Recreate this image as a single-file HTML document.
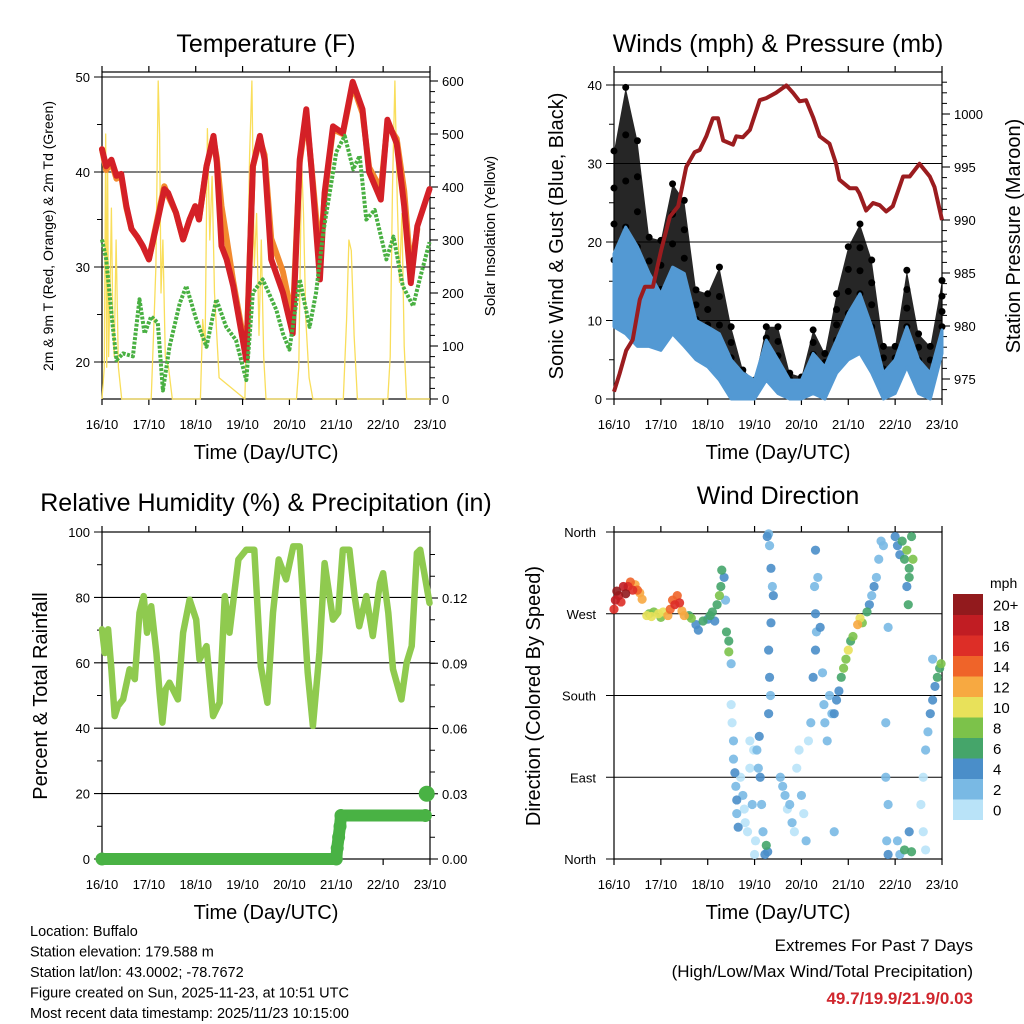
<!DOCTYPE html>
<html><head><meta charset="utf-8"><style>
html,body{margin:0;padding:0;background:#fff}
svg{display:block;font-family:"Liberation Sans",Arial,sans-serif}
</style></head><body>
<svg id="c" width="1024" height="1024" viewBox="0 0 1024 1024" xmlns="http://www.w3.org/2000/svg">
<g id="g"></g>
</svg>
<script>
// ---------- DATA ----------
const dayLabels = ["16/10","17/10","18/10","19/10","20/10","21/10","22/10","23/10"];
const tempT = [0,0.09,0.2,0.31,0.41,0.52,0.63,0.75,0.87,1.0,1.19,1.33,1.41,1.58,1.73,1.87,1.99,2.07,2.23,2.38,2.45,2.55,2.66,2.8,3.08,3.22,3.37,3.47,3.61,3.86,4.07,4.22,4.36,4.47,4.65,4.75,4.93,5.14,5.35,5.56,5.7,5.95,6.09,6.29,6.45,6.59,6.73];
const tempRed = [42.4,40.6,41.3,39.6,39.8,36.4,34,33.2,32.2,30.8,35,38.2,37.8,35.7,32.9,35,36.4,35,40.6,43.8,41,32.2,30.8,28,20.2,40.6,43.8,41.3,30.8,27.3,23,41.3,46.6,40.3,28.7,37.8,44.8,44.1,49.5,46.6,40,37.1,45.5,43,36.4,28.3,34.3];
const tempOrange = [42.4,40.2,41,39.3,39.6,36.2,34,33.2,32.2,30.8,35.3,38.5,37.5,35.7,32.9,35,36.4,35,40.6,43.4,41.5,36.4,33,28.5,20.8,40.6,43.4,41.8,33,29.5,24.5,41,46,40.5,31,37.5,44.5,44,49.2,46.2,40.5,38.2,45,43.5,38,29.5,34];
const tempEndT = 6.99, tempEndRed = 38.2;
const dewT = [0,0.09,0.23,0.31,0.45,0.66,0.8,0.91,1.05,1.19,1.3,1.44,1.66,1.8,2.01,2.23,2.44,2.65,2.86,3.08,3.22,3.43,3.72,3.86,4.0,4.22,4.43,4.57,4.72,5.0,5.18,5.36,5.5,5.64,5.82,6.07,6.22,6.42,6.64,6.78,6.99];
const dewVal = [32.9,30.8,23.7,20.2,20.9,20.6,26.6,23,24.8,24.1,17,21.6,26.2,28,24.5,21.6,26.6,23.7,22.3,18.1,27.3,28.7,25.5,23,21.3,28.7,23.7,27.3,33.6,42.1,43.8,40.3,41.7,35,36,30.8,33.2,28,25.9,28.7,32.6];
const solT = [0,0.05,0.08,0.1,0.12,0.14,0.17,0.2,0.23,0.26,0.3,0.35,0.42,1.05,1.1,1.15,1.2,1.23,1.26,1.3,1.35,1.42,1.5,2.1,2.15,2.2,2.25,2.3,2.35,2.4,2.45,2.5,3.05,3.1,3.15,3.2,3.25,3.3,3.35,3.4,3.45,3.5,4.15,4.2,4.26,4.3,4.35,4.42,4.5,5.15,5.22,5.27,5.32,5.38,5.45,6.1,6.15,6.2,6.25,6.3,6.35,6.4,6.45,6.5,7.0];
const solV = [0,60,500,60,450,80,200,360,150,80,300,60,0,0,120,250,600,500,200,300,80,60,0,0,150,100,510,300,420,200,120,40,0,200,460,600,250,350,120,300,80,0,0,60,450,350,150,40,0,0,150,300,280,120,0,0,80,400,600,380,220,350,100,0,0];
const windT = [0,0.25,0.5,0.75,1,1.25,1.5,1.75,2,2.25,2.5,2.75,3,3.25,3.5,3.75,4,4.25,4.5,4.75,5,5.25,5.5,5.75,6,6.25,6.5,6.75,7];
const windHi = [18.5,21.9,19.4,16,13.4,16.8,16,10,9.2,8.3,5,3.3,2.4,7.5,5,2.4,2.4,5.8,4.1,7.5,10.9,13.4,9.2,3.3,5,9.2,5,3.3,8.8];
const windLo = [9.2,8.3,6.7,6.7,6.2,8.3,6.7,5,4.1,2.4,0,0,0,2.4,0.7,0,0,0.7,0,3.3,5,5.8,3.3,0,0.7,4.1,0.7,0,5.8];
const gustHi = [31.6,39.7,32.9,20.6,20.2,27.4,25.3,13.9,13.4,16.8,9.2,3.7,2.4,9.2,9.2,3.3,2.8,8.8,5.8,13.4,19.4,22.3,17.7,6.7,6.7,16.4,8.3,6.7,15.1];
const gustLo = [17.7,21.9,19.4,11.7,10.9,16,14.3,8.3,7.5,5.8,3.3,2,1.6,5,3.7,1.1,1.1,4.1,2.4,7.5,10.9,13.4,9.2,2.4,2.4,9.2,3.3,1.6,9.2];
const presT = [0,0.12,0.26,0.4,0.55,0.66,0.83,1.01,1.19,1.37,1.54,1.72,1.83,1.97,2.11,2.22,2.33,2.54,2.61,2.75,2.9,3.11,3.25,3.46,3.68,3.82,3.96,4.1,4.25,4.39,4.6,4.74,4.81,5.03,5.17,5.24,5.38,5.53,5.67,5.81,5.95,6.17,6.31,6.52,6.74,6.84,7.0];
const presV = [973.8,975.5,977.7,978.7,982.5,983.7,983.7,987.2,990.3,991.3,995,996.4,996.6,997.9,999.6,999.6,997.5,997.1,997.9,997.8,998.5,1001.3,1001.5,1002,1002.7,1002,1001.2,1001.3,999.7,997.9,997.2,995.3,993.8,993,993,992.5,990.9,991.6,991.4,990.8,991.3,994.1,994.1,995.3,994.1,993.1,990];
const rhT = [0,0.06,0.13,0.2,0.27,0.34,0.45,0.59,0.7,0.8,0.89,0.96,1.05,1.16,1.23,1.29,1.36,1.44,1.62,1.73,1.87,2.01,2.08,2.23,2.37,2.51,2.62,2.72,2.91,3.08,3.25,3.39,3.53,3.65,3.77,3.93,4.08,4.22,4.39,4.5,4.64,4.75,4.93,5.04,5.14,5.28,5.39,5.49,5.64,5.78,5.93,6.0,6.11,6.21,6.39,6.5,6.61,6.72,6.79,6.99];
const rhV = [70.2,63,70.2,58,43.7,46.8,48.8,58,55,75.3,80.4,69.2,77.3,63,50.9,41.7,51.9,53.9,48.8,69.2,79.3,73.2,61,65.1,43.7,47.8,80.4,69.2,91.6,94.6,94.6,59,47.8,75.3,91.6,85.5,95.6,95.6,57,40.7,63,90.5,73.2,75.3,94.6,94.6,80.4,71.2,80.4,68.2,84.4,87.4,75.3,58,48.8,60,65.1,93.6,94.6,78.3,84.4,79.3];
const rainT = [0,5.0,5.02,5.05,5.08,5.1,6.9,6.93];
const rainV = [0,0,0.005,0.01,0.015,0.02,0.02,0.03];
const dirT = [0,0.03,0.06,0.1,0.15,0.2,0.25,0.3,0.35,0.4,0.45,0.5,0.55,0.6,0.7,0.75,0.8,0.85,0.95,1.0,1.05,1.15,1.2,1.25,1.3,1.35,1.4,1.45,1.5,1.6,1.65,1.75,1.8,1.9,2.0,2.05,2.1,2.15,2.2,2.25,2.28,2.3,2.35,2.38,2.4,2.45,2.45,2.5,2.5,2.52,2.55,2.55,2.58,2.6,2.62,2.62,2.65,2.7,2.75,2.78,2.8,2.85,2.9,2.9,2.95,2.98,3.0,3.02,3.05,3.08,3.1,3.12,3.15,3.18,3.22,3.25,3.28,3.27,3.3,3.32,3.35,3.38,3.4,3.35,3.3,3.32,3.34,3.3,3.55,3.6,3.65,3.7,3.75,3.8,3.85,3.9,3.95,4.0,4.05,4.1,4.15,4.2,4.25,4.3,4.32,4.3,4.28,4.3,4.35,4.4,4.45,4.48,4.5,4.55,4.6,4.65,4.7,4.7,4.75,4.8,4.85,4.9,4.95,5.0,5.05,5.1,5.2,5.25,5.3,5.4,5.45,5.5,5.55,5.6,5.65,5.7,5.75,5.8,5.8,5.85,5.82,5.85,5.85,6.0,6.05,6.1,6.15,6.2,6.25,6.3,6.35,6.38,6.3,6.28,6.25,6.05,6.1,6.2,6.3,6.35,6.55,6.6,6.65,6.7,6.75,6.8,6.85,6.9,6.95,6.98,6.6,6.65,6.8];
const dirV = [275,285,295,290,283,300,292,300,305,296,302,296,293,286,268,270,267,272,270,266,272,268,275,285,280,290,282,273,268,268,265,258,252,262,264,268,272,262,280,290,300,318,310,285,250,240,228,215,170,150,130,110,95,80,65,50,35,90,70,55,40,30,130,100,60,120,5,20,120,100,135,90,60,30,5,15,8,355,358,345,320,300,290,260,230,200,180,160,90,80,70,55,60,40,30,100,120,70,50,20,130,150,200,230,250,270,300,340,310,255,205,170,150,130,180,160,30,160,175,185,200,210,220,230,240,245,258,265,260,272,280,290,300,310,330,350,345,150,90,60,20,5,255,355,345,335,350,330,340,320,355,330,310,280,300,20,5,10,30,8,60,90,120,140,160,175,190,200,210,215,30,10,220];
const dirS = [16,19,20,18,17,19,20,16,14,17,12,15,13,12,10,9,10,8,10,9,11,12,14,15,17,14,16,12,13,7,8,5,4,6,5,7,6,4,7,8,7,6,5,3,6,7,8,2,1,0,2,3,4,3,4,3,4,1,2,0,1,0,0,1,3,1,1,0,2,3,4,4,3,3,4,6,4,4,2,3,4,3,4,4,4,4,3,4,2,3,2,1,2,3,1,0,1,2,1,2,1,3,4,4,3,4,3,4,3,4,3,2,3,3,2,2,3,5,4,4,6,8,9,10,7,8,12,11,8,6,4,3,4,3,2,2,2,2,3,2,3,4,2,4,5,4,6,7,8,6,7,8,6,6,5,3,2,7,4,6,1,1,2,3,4,4,5,6,7,8,1,1,2];
const speedBins = ["0","2","4","6","8","10","12","14","16","18","20+"];

// ---------- HELPERS ----------
const NS="http://www.w3.org/2000/svg";
const root=document.getElementById('g');
function el(tag,attrs,parent,txt){const e=document.createElementNS(NS,tag);for(const k in attrs)e.setAttribute(k,attrs[k]);if(txt!==undefined)e.textContent=txt;(parent||root).appendChild(e);return e;}
function lin(d0,d1,r0,r1){return v=>r0+(v-d0)*(r1-r0)/(d1-d0);}
const binColors=["#b9e3f8","#79b9e4","#4a8ec9","#45a56a","#7cc24a","#e8e15a","#f7a941","#ef6429","#dd2e27","#c11d23","#921a1d"];
function spdColor(s){let i=Math.floor(s/2);if(i>10)i=10;if(i<0)i=0;return binColors[i];}

function frame(p){
  const g=el('g',{});
  
  
  const xs=lin(0,7,p.x0,p.x1);
  for(let i=0;i<8;i++){
    const x=xs(i);
    el('line',{x1:x,y1:p.y1,x2:x,y2:p.y1+6,stroke:'#000','stroke-width':1.2},g);
    el('line',{x1:x,y1:p.y0,x2:x,y2:p.y0-6,stroke:'#000','stroke-width':1.2},g);
    const t=el('text',{x:x,y:p.y1+30,'text-anchor':'middle','font-size':13},g,dayLabels[i]);
    
    
  }
  el('rect',{x:p.x0,y:p.y0,width:p.x1-p.x0,height:p.y1-p.y0,fill:'none',stroke:'#000','stroke-width':1.2},g);
  const tl=el('text',{x:(p.x0+p.x1)/2,y:p.y1+60,'text-anchor':'middle','font-size':20},g,'Time (Day/UTC)');
  
  
  return xs;
}
function leftAxis(p,ys,majors,minors,labels,withGrid){
  const g=el('g',{});
  
  
  minors.forEach(v=>{const y=ys(v);el('line',{x1:p.x0,y1:y,x2:p.x0-5,y2:y,stroke:'#000','stroke-width':1},g);});
  majors.forEach((v,i)=>{const y=ys(v);
    el('line',{x1:withGrid?p.x1:p.x0,y1:y,x2:p.x0-8,y2:y,stroke:'#000','stroke-width':1.1},g);
    const t=el('text',{x:p.x0-12,y:y+5,'text-anchor':'end','font-size':13},g,labels[i]);
    
    
  });
}
function rightAxis(p,ys,majors,minors,labels){
  const g=el('g',{});
  
  
  minors.forEach(v=>{const y=ys(v);el('line',{x1:p.x1,y1:y,x2:p.x1+5,y2:y,stroke:'#000','stroke-width':1},g);});
  majors.forEach((v,i)=>{const y=ys(v);
    el('line',{x1:p.x1,y1:y,x2:p.x1+8,y2:y,stroke:'#000','stroke-width':1.1},g);
    const t=el('text',{x:p.x1+12,y:y+5,'text-anchor':'start','font-size':13},g,labels[i]);
    
    
  });
}
function rotLabel(x,y,txt,size,name){
  const t=el('text',{x:x,y:y,'text-anchor':'middle','font-size':size,transform:`rotate(-90 ${x} ${y})`},root,txt);
  
  
}
function title(x,y,txt,name){
  const t=el('text',{x:x,y:y,'text-anchor':'middle','font-size':25},root,txt);
  
  
}
function range(a,b,s){const r=[];for(let v=a;v<=b+1e-9;v+=s)r.push(+v.toFixed(4));return r;}
function pts(xs,ys,T,V){return T.map((t,i)=>xs(t).toFixed(1)+','+ys(V[i]).toFixed(1)).join(' ');}

// ---------- PANEL 1: Temperature ----------
(function(){
  const p={x0:102,x1:430,y0:72,y1:399,name:'temperature'};
  title(266,52,'Temperature (F)','temperature-title');
  const ys=lin(20,50,362,77);
  const ys2=lin(0,600,399,81);
  leftAxis(p,ys,[20,30,40,50],[25,35,45],["20","30","40","50"],true);
  rightAxis(p,ys2,range(0,600,100),range(0,600,20),range(0,600,100).map(String));
  const xs=frame(p);
  const s=el('polyline',{points:pts(xs,ys2,solT,solV),fill:'none',stroke:'#f9de5b','stroke-width':1.3,'stroke-linejoin':'round'});
  
  
  const o=el('polyline',{points:pts(xs,ys,tempT,tempOrange),fill:'none',stroke:'#f28a2e','stroke-width':6,'stroke-linejoin':'round','stroke-linecap':'round'});
  
  
  const r=el('polyline',{points:pts(xs,ys,tempT.concat([tempEndT]),tempRed.concat([tempEndRed])),fill:'none',stroke:'#d42027','stroke-width':6,'stroke-linejoin':'round','stroke-linecap':'round'});
  
  
  const d=el('polyline',{points:pts(xs,ys,dewT,dewVal),fill:'none',stroke:'#49b042','stroke-width':4,'stroke-dasharray':'3 1.5','stroke-linejoin':'round'});
  
  
  rotLabel(53,236,'2m & 9m T (Red, Orange) & 2m Td (Green)',14,'y-axis-title');
  rotLabel(495,236,'Solar Insolation (Yellow)',15,'y2-axis-title');
})();

// ---------- PANEL 2: Winds & Pressure ----------
(function(){
  const p={x0:614,x1:942,y0:72,y1:399,name:'winds'};
  title(778,52,'Winds (mph) & Pressure (mb)','winds-title');
  const ys=lin(0,40,399,85);
  const ys2=lin(975,1000,379,114);
  leftAxis(p,ys,[0,10,20,30,40],[5,15,25,35],["0","10","20","30","40"],true);
  rightAxis(p,ys2,[975,980,985,990,995,1000],range(974,1003,1),["975","980","985","990","995","1000"]);
  const xs=frame(p);
  const gg=el('g',{});
  
  
  const gb=windT.map((t,i)=>xs(t)+','+ys(gustHi[i])).concat(windT.map((t,i)=>xs(t)+','+ys(gustLo[i])).reverse()).join(' ');
  el('polygon',{points:gb,fill:'#000','fill-opacity':0.85},gg);
  windT.forEach((t,i)=>{
    [0,0.33,0.66,1].forEach(f=>{
      el('circle',{cx:xs(t),cy:ys(gustLo[i]+(gustHi[i]-gustLo[i])*f),r:3.5,fill:'#000'},gg);
    });
  });
  const wb=windT.map((t,i)=>xs(t)+','+ys(windHi[i])).concat(windT.map((t,i)=>xs(t)+','+ys(windLo[i])).reverse()).join(' ');
  const w=el('polygon',{points:wb,fill:'#5399d3',stroke:'#5399d3','stroke-width':3,'stroke-linejoin':'round'});
  
  
  const pr=el('polyline',{points:pts(xs,ys2,presT,presV),fill:'none',stroke:'#9b1c1f','stroke-width':4,'stroke-linejoin':'round'});
  
  
  rotLabel(563,236,'Sonic Wind & Gust (Blue, Black)',20,'y-axis-title');
  rotLabel(1020,236,'Station Pressure (Maroon)',20,'y2-axis-title');
})();

// ---------- PANEL 3: RH & Precip ----------
(function(){
  const p={x0:102,x1:430,y0:532,y1:859,name:'humidity'};
  title(266,511,'Relative Humidity (%) & Precipitation (in)','humidity-title');
  const ys=lin(0,100,859,532);
  const ys2=lin(0,0.12,859,598);
  leftAxis(p,ys,[0,20,40,60,80,100],range(10,90,20),["0","20","40","60","80","100"],true);
  rightAxis(p,ys2,[0,0.03,0.06,0.09,0.12],range(0,0.14,0.01),["0.00","0.03","0.06","0.09","0.12"]);
  const xs=frame(p);
  const rh=el('polyline',{points:pts(xs,ys,rhT,rhV),fill:'none',stroke:'#8fca4f','stroke-width':6.5,'stroke-linejoin':'round','stroke-linecap':'round'});
  
  
  const rn=el('polyline',{points:pts(xs,ys2,rainT.slice(0,7),rainV.slice(0,7)),fill:'none',stroke:'#49b244','stroke-width':12,'stroke-linejoin':'round','stroke-linecap':'round'});
  
  
  rainT.forEach((t,i)=>{const c=el('circle',{cx:xs(t),cy:ys2(rainV[i]),r:i==rainT.length-1?8:6.5,fill:'#49b244'});
    
    });
  rotLabel(47,696,'Percent & Total Rainfall',20,'y-axis-title');
})();

// ---------- PANEL 4: Wind Direction ----------
(function(){
  const p={x0:614,x1:942,y0:532,y1:859,name:'wind-direction'};
  title(778,504,'Wind Direction','wind-direction-title');
  const ys=lin(0,360,859,532);
  const g=el('g',{});
  
  
  const dl=["North","East","South","West","North"];
  [0,90,180,270,360].forEach((v,i)=>{const y=ys(v);
    el('line',{x1:p.x1,y1:y,x2:p.x0-8,y2:y,stroke:'#000','stroke-width':1.1},g);
    const t=el('text',{x:p.x0-18,y:y+5,'text-anchor':'end','font-size':13},g,dl[i]);
    
    });
  const xs=frame(p);
  const sg=el('g',{'fill-opacity':0.9});
  
  
  const order=dirT.map((_,i)=>i).sort((a,b)=>dirS[a]-dirS[b]);
  order.forEach(i=>{el('circle',{cx:xs(dirT[i]),cy:ys(dirV[i]),r:4.6,fill:spdColor(dirS[i])},sg);});
  rotLabel(540,696,'Direction (Colored By Speed)',20,'y-axis-title');
  const lg=el('g',{});
  
  
  el('text',{x:990,y:588,'font-size':14},lg,'mph');
  const h=20.5;
  for(let k=0;k<11;k++){
    const y=594+(10-k)*h;
    el('rect',{x:953,y:y,width:30,height:h+0.5,fill:binColors[k]},lg);
    el('text',{x:993,y:y+h/2+6,'font-size':15},lg,speedBins[k]);
  }
})();

// ---------- Footer text ----------
(function(){
  const info=["Location: Buffalo","Station elevation: 179.588 m","Station lat/lon: 43.0002; -78.7672","Figure created on Sun, 2025-11-23, at 10:51 UTC","Most recent data timestamp: 2025/11/23 10:15:00"];
  const g=el('g',{});
  
  
  info.forEach((s,i)=>el('text',{x:30,y:936+i*20.5,'font-size':14.5},g,s));
  const e=el('g',{});
  
  
  el('text',{x:973,y:951,'text-anchor':'end','font-size':17},e,'Extremes For Past 7 Days');
  el('text',{x:973,y:977,'text-anchor':'end','font-size':17},e,'(High/Low/Max Wind/Total Precipitation)');
  el('text',{x:973,y:1004,'text-anchor':'end','font-size':17,'font-weight':'bold',fill:'#d0262d'},e,'49.7/19.9/21.9/0.03');
})();
</script>
</body></html>
